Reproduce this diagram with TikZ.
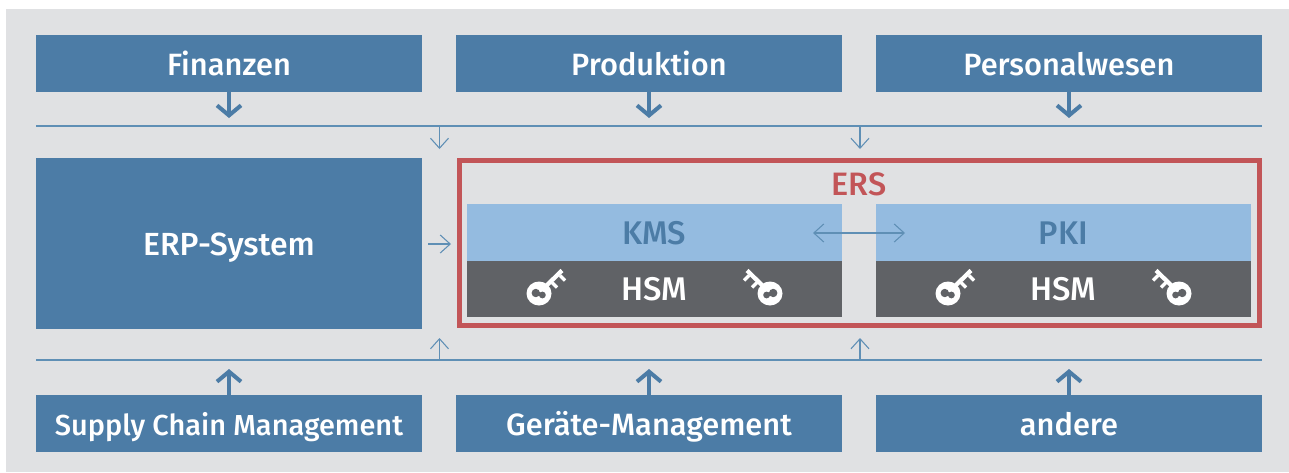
\documentclass[tikz,border=0pt]{standalone}
\usepackage{fontspec}
\setmainfont{Fira Sans Medium}
\usetikzlibrary{arrows.meta}
\definecolor{bgc}{HTML}{E0E1E3}
\definecolor{bluec}{HTML}{4C7CA6}
\definecolor{thinc}{HTML}{5F8FB5}
\definecolor{lightc}{HTML}{94BBE0}
\definecolor{darkc}{HTML}{606266}
\definecolor{redc}{HTML}{C25558}
\newcommand{\fs}[1]{\fontsize{#1}{#1}\selectfont}
\tikzset{
  x=0.75pt,y=-0.75pt,
  boxbase/.style={inner sep=0pt,outer sep=0pt,anchor=north west,text height=17.5pt,text depth=0pt},
  box/.style={boxbase,fill=bluec,text=white,minimum width=289.5pt,minimum height=42.75pt,font=\fs{23.1}},
  lightbox/.style={boxbase,fill=lightc,text=bluec,minimum width=281.25pt,minimum height=42.75pt,font=\fs{24.6}},
  darkbox/.style={boxbase,fill=darkc,text=white,minimum width=281.25pt,minimum height=42pt,font=\fs{24.6}},
  thick arrow/.style={draw=bluec,line width=3pt,-{Straight Barb[length=7.5pt,width=18pt,line width=3pt]}},
  thin arrow/.style={draw=thinc,line width=0.8pt,-{Straight Barb[length=7.5pt,width=13.5pt,line width=0.8pt]}},
  thin both/.style={draw=thinc,line width=0.8pt,{Straight Barb[length=7.5pt,width=13.5pt,line width=0.8pt]}-{Straight Barb[length=7.5pt,width=13.5pt,line width=0.8pt]}},
  bus/.style={draw=thinc,line width=1pt},
}
\newcommand{\keyicon}[3]{%
  \begin{scope}[shift={(#1,#2)},xscale=#3]
    \draw[white,line width=3.2pt] (6,-6.5) -- (23,-23);
    \draw[white,line width=2.6pt] (21,-18) -- (26,-13) (13,-11) -- (18,-6);
    \fill[white] (0,0) ellipse[x radius=12.5,y radius=12];
    \fill[darkc] (-3.2,-0.5) circle[radius=4.2] (3.4,1.5) circle[radius=3.4];
    \fill[darkc] (-3,-2.3) -- (3.4,-0.4) -- (3.4,3.4) -- (-3,1.5) -- cycle;
  \end{scope}}
\begin{document}
\begin{tikzpicture}
\useasboundingbox (0,0) rectangle (1289,472);
\fill[bgc] (6,9) rectangle (1289,472);
% boxes
\node[box] (fin) at (36,35) {Finanzen};
\node[box] (prod) at (456,35) {Produktion};
\node[box] (pers) at (876,35) {Personalwesen};
\node[box,minimum height=128.25pt,font=\fs{24}] (erp) at (36,158) {ERP-System};
\node[box,font=\fs{21.7}] (scm) at (36,395) {Supply Chain Management};
\node[box] (geraete) at (456,395) {Geräte-Management};
\node[box] (andere) at (876,395) {andere};
% ERS
\node[draw=redc,line width=3.4pt,minimum width=600pt,minimum height=123.75pt,inner sep=0pt,outer sep=0pt,anchor=north west] (ers) at (459.5,160.5) {};
\node[text=redc,font=\fs{24.3},anchor=center] (erslabel) at (859,184) {ERS};
\node[lightbox] (kms) at (467,204) {KMS};
\node[lightbox] (pki) at (876,204) {PKI};
\node[darkbox] (hsma) at (467,261) {HSM};
\node[darkbox] (hsmb) at (876,261) {HSM};
\keyicon{539}{293.5}{1}
\keyicon{770}{293.5}{-1}
\keyicon{948}{293.5}{1}
\keyicon{1179}{293.5}{-1}
% coordinates
\coordinate (topL) at (36,126);
\coordinate (topR) at (1262,126);
\coordinate (botL) at (36,360);
\coordinate (botR) at (1262,360);
\draw[bus] (topL) -- (topR);
\draw[bus] (botL) -- (botR);
\foreach \n in {fin,prod,pers}{
  \draw[thick arrow] (\n.south) -- ++(0,26);
}
\foreach \n in {scm,geraete,andere}{
  \draw[thick arrow] (\n.north) -- ++(0,-26);
}
\coordinate (ta) at (439.5,126); \coordinate (taE) at (439.5,149);
\coordinate (tb) at (860,126); \coordinate (tbE) at (860,149);
\coordinate (ba) at (439.5,360); \coordinate (baE) at (439.5,338);
\coordinate (bb) at (860,360); \coordinate (bbE) at (860,338);
\draw[thin arrow] (ta) -- (taE);
\draw[thin arrow] (tb) -- (tbE);
\draw[thin arrow] (ba) -- (baE);
\draw[thin arrow] (bb) -- (bbE);
\coordinate (ea) at (428,244); \coordinate (eb) at (451,244);
\draw[thin arrow] (ea) -- (eb);
\coordinate (da) at (813,233); \coordinate (db) at (905,233);
\draw[thin both] (da) -- (db);
\end{tikzpicture}
\end{document}
